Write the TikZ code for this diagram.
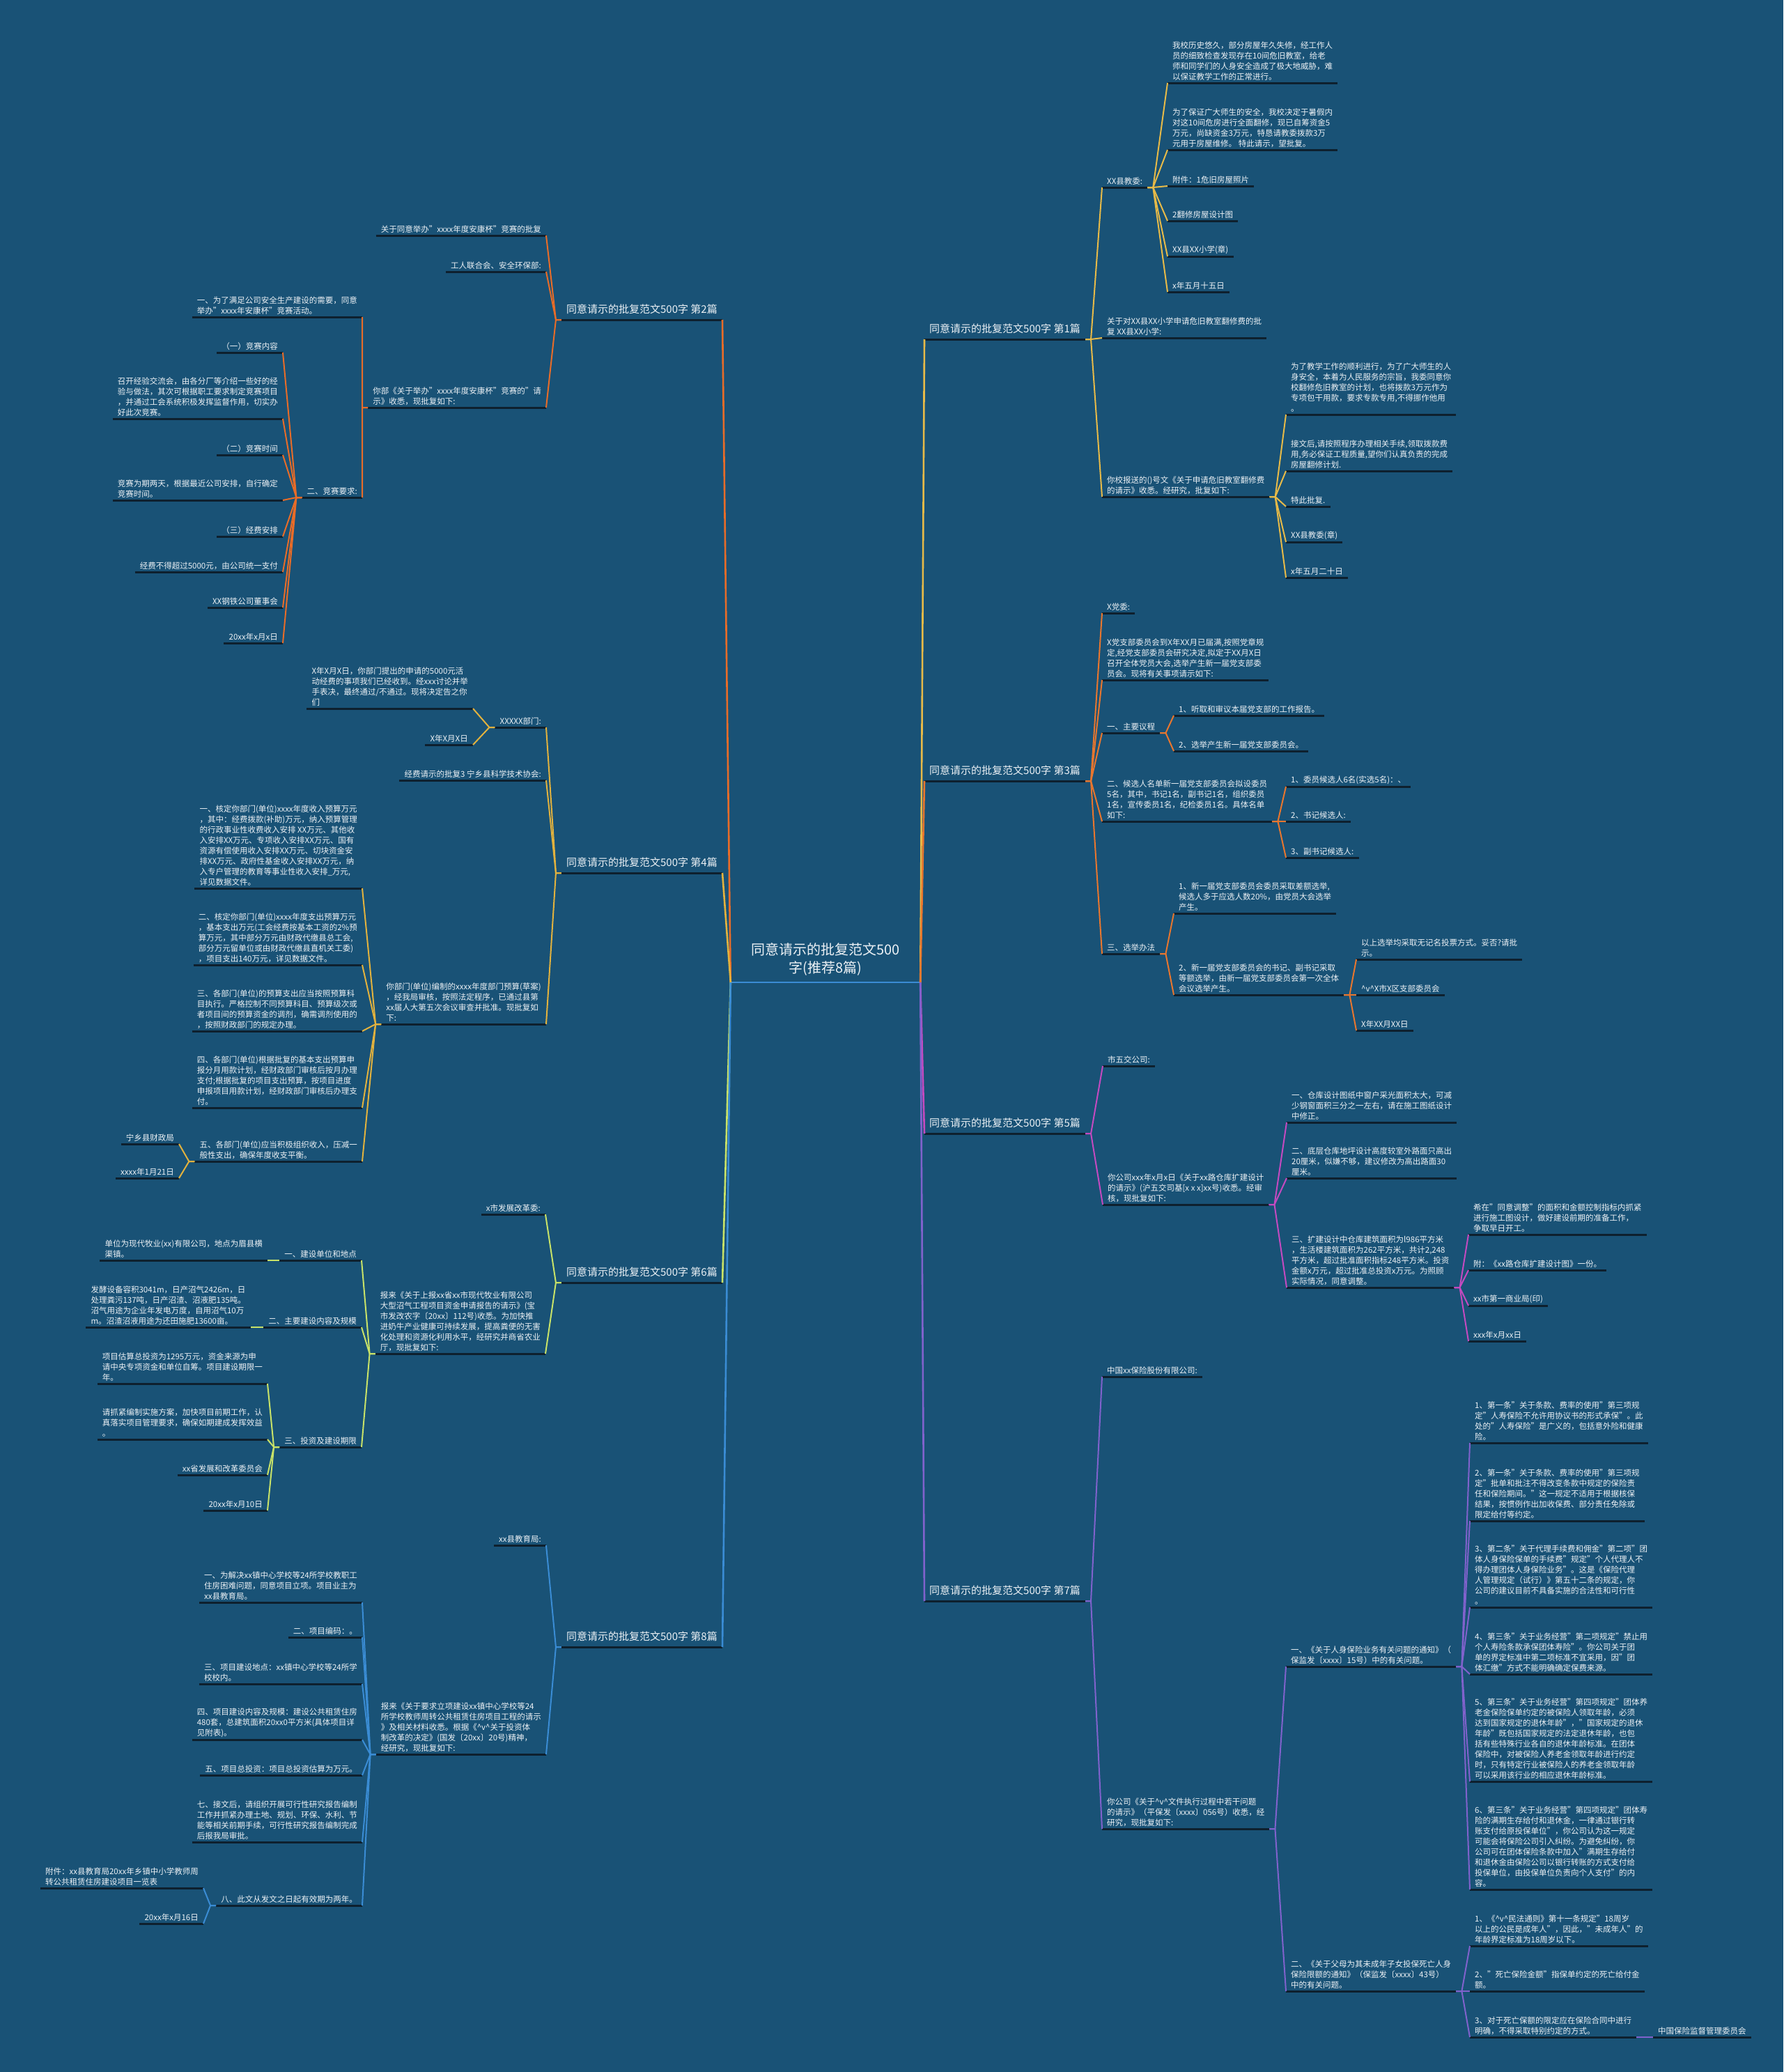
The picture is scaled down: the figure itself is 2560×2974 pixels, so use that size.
\documentclass[tikz,border=0pt]{standalone}
\usepackage{fontspec}
\setmainfont{Noto Sans CJK SC}
\definecolor{bg}{RGB}{25,82,118}
\definecolor{uline}{RGB}{14,32,46}
\definecolor{txt}{RGB}{236,241,245}
\definecolor{cA}{RGB}{231,186,72}
\definecolor{cB}{RGB}{232,118,46}
\definecolor{cC}{RGB}{196,74,192}
\definecolor{cD}{RGB}{128,98,204}
\definecolor{cE}{RGB}{232,108,40}
\definecolor{cF}{RGB}{226,178,62}
\definecolor{cG}{RGB}{200,226,104}
\definecolor{cH}{RGB}{58,140,212}
\tikzset{
 ul/.style={draw=uline, line width=3pt},
 base/.style={align=left, inner xsep=7pt, inner ysep=3.5pt, text=txt, font=\fontsize{11.5}{15}\selectfont,
   append after command={(\tikzlastnode.south west) edge[ul] (\tikzlastnode.south east)}},
 R/.style={base, anchor=south west},
 L/.style={base, anchor=south east},
 MR/.style={R, inner ysep=8pt, font=\fontsize{15}{19}\selectfont},
 ML/.style={L, inner ysep=8pt, font=\fontsize{15}{19}\selectfont},
 lk/.style={line width=2pt, line join=round},
 tk/.style={line width=2.6pt, line join=round},
}
\newcommand\rlinks[3]{\foreach \kid in {#3}{\draw[lk,#1] (#2.south east) -- ++(8,0) -- (\kid.south west);}}
\newcommand\llinks[3]{\foreach \kid in {#3}{\draw[lk,#1] (#2.south west) -- ++(-8,0) -- (\kid.south east);}}
\begin{document}
\begin{tikzpicture}[x=1pt,y=-1pt]
\fill[bg] (0,0) rectangle (2560,2974);
\useasboundingbox (0,0) rectangle (2560,2974);

% center
\node[text=txt, font=\fontsize{20}{26}\selectfont, align=center, anchor=south, minimum width=272pt, inner ysep=9pt] (ctr) at (1185,1410) {同意请示的批复范文500\\字(推荐8篇)};

% main branches
\node[MR] (m1) at (1327,487) {同意请示的批复范文500字 第1篇};
\node[MR] (m3) at (1327,1121) {同意请示的批复范文500字 第3篇};
\node[MR] (m5) at (1327,1627) {同意请示的批复范文500字 第5篇};
\node[MR] (m7) at (1327,2298) {同意请示的批复范文500字 第7篇};
\node[ML] (n2) at (1037,459) {同意请示的批复范文500字 第2篇};
\node[ML] (n4) at (1037,1253) {同意请示的批复范文500字 第4篇};
\node[ML] (n6) at (1037,1841) {同意请示的批复范文500字 第6篇};
\node[ML] (n8) at (1037,2364) {同意请示的批复范文500字 第8篇};

% ---- 第1篇
\node[R] (a1) at (1582,269) {XX县教委:};
\node[R] (a2) at (1582,485) {关于对XX县XX小学申请危旧教室翻修费的批\\复 XX县XX小学:};
\node[R] (a3) at (1582,713) {你校报送的()号文《关于申请危旧教室翻修费\\的请示》收悉。经研究，批复如下:};
\node[R] (a11) at (1676,119) {我校历史悠久，部分房屋年久失修，经工作人\\员的细致检查发现存在10间危旧教室，给老\\师和同学们的人身安全造成了极大地威胁，难\\以保证教学工作的正常进行。};
\node[R] (a12) at (1676,215) {为了保证广大师生的安全，我校决定于暑假内\\对这10间危房进行全面翻修，现已自筹资金5\\万元，尚缺资金3万元，特恳请教委拨款3万\\元用于房屋维修。 特此请示，望批复。};
\node[R] (a13) at (1676,267) {附件：1危旧房屋照片};
\node[R] (a14) at (1676,317) {2翻修房屋设计图};
\node[R] (a15) at (1676,368) {XX县XX小学(章)};
\node[R] (a16) at (1676,419) {x年五月十五日};
\node[R] (a31) at (1846,595) {为了教学工作的顺利进行，为了广大师生的人\\身安全，本着为人民服务的宗旨，我委同意你\\校翻修危旧教室的计划，也将拨款3万元作为\\专项包干用款，要求专款专用,不得挪作他用\\。};
\node[R] (a32) at (1846,676) {接文后,请按照程序办理相关手续,领取拨款费\\用,务必保证工程质量,望你们认真负责的完成\\房屋翻修计划.};
\node[R] (a33) at (1846,727) {特此批复.};
\node[R] (a34) at (1846,778) {XX县教委(章)};
\node[R] (a35) at (1846,829) {x年五月二十日};

% ---- 第3篇
\node[R] (b1) at (1582,880) {X党委:};
\node[R] (b2) at (1582,976) {X党支部委员会到X年XX月已届满,按照党章规\\定,经党支部委员会研究决定,拟定于XX月X日\\召开全体党员大会,选举产生新一届党支部委\\员会。现将有关事项请示如下:};
\node[R] (b3) at (1582,1052) {一、主要议程};
\node[R] (b4) at (1582,1179) {二、候选人名单新一届党支部委员会拟设委员\\5名，其中，书记1名，副书记1名，组织委员\\1名，宣传委员1名，纪检委员1名。具体名单\\如下:};
\node[R] (b5) at (1582,1369) {三、选举办法};
\node[R] (b31) at (1685,1027) {1、听取和审议本届党支部的工作报告。};
\node[R] (b32) at (1685,1078) {2、选举产生新一届党支部委员会。};
\node[R] (b41) at (1846,1129) {1、委员候选人6名(实选5名)：、};
\node[R] (b42) at (1846,1179) {2、书记候选人:};
\node[R] (b43) at (1846,1231) {3、副书记候选人:};
\node[R] (b51) at (1685,1311) {1、新一届党支部委员会委员采取差额选举,\\候选人多于应选人数20\%，由党员大会选举\\产生。};
\node[R] (b52) at (1685,1428) {2、新一届党支部委员会的书记、副书记采取\\等额选举，由新一届党支部委员会第一次全体\\会议选举产生。};
\node[R] (b521) at (1947,1377) {以上选举均采取无记名投票方式。妥否?请批\\示。};
\node[R] (b522) at (1947,1428) {\textasciicircum v\textasciicircum X市X区支部委员会};
\node[R] (b523) at (1947,1479) {X年XX月XX日};

% ---- 第5篇
\node[R] (c1) at (1583,1530) {市五交公司:};
\node[R] (c2) at (1583,1729) {你公司xxx年x月x日《关于xx路仓库扩建设计\\的请示》(沪五交司基[x x x]xx号)收悉。经审\\核，现批复如下:};
\node[R] (c21) at (1847,1611) {一、仓库设计图纸中窗户采光面积太大，可减\\少钢窗面积三分之一左右，请在施工图纸设计\\中修正。};
\node[R] (c22) at (1847,1691) {二、底层仓库地坪设计高度较室外路面只高出\\20厘米，似嫌不够，建议修改为高出路面30\\厘米。};
\node[R] (c23) at (1847,1848) {三、扩建设计中仓库建筑面积为l986平方米\\，生活楼建筑面积为262平方米，共计2,248\\平方米，超过批准面积指标248平方米。投资\\金额x万元，超过批准总投资x万元。为照顾\\实际情况，同意调整。};
\node[R] (c231) at (2108,1772) {希在"同意调整"的面积和金额控制指标内抓紧\\进行施工图设计，做好建设前期的准备工作，\\争取早日开工。};
\node[R] (c232) at (2108,1823) {附：《xx路仓库扩建设计图》一份。};
\node[R] (c233) at (2108,1874) {xx市第一商业局(印)};
\node[R] (c234) at (2108,1925) {xxx年x月xx日};

% ---- 第7篇
\node[R] (d1) at (1582,1976) {中国xx保险股份有限公司:};
\node[R] (d2) at (1582,2625) {你公司《关于\textasciicircum v\textasciicircum 文件执行过程中若干问题\\的请示》（平保发〔xxxx〕056号）收悉，经\\研究，现批复如下:};
\node[R] (d21) at (1846,2392) {一、《关于人身保险业务有关问题的通知》（\\保监发〔xxxx〕15号）中的有关问题。};
\node[R] (d22) at (1846,2858) {二、《关于父母为其未成年子女投保死亡人身\\保险限额的通知》（保监发〔xxxx〕43号）\\中的有关问题。};
\node[R] (d211) at (2110,2071) {1、第一条"关于条款、费率的使用"第三项规\\定"人寿保险不允许用协议书的形式承保"。此\\处的"人寿保险"是广义的，包括意外险和健康\\险。};
\node[R] (d212) at (2110,2183) {2、第一条"关于条款、费率的使用"第三项规\\定"批单和批注不得改变条款中规定的保险责\\任和保险期间。"这一规定不适用于根据核保\\结果，按惯例作出加收保费、部分责任免除或\\限定给付等约定。};
\node[R] (d213) at (2110,2307) {3、第二条"关于代理手续费和佣金"第二项"团\\体人身保险保单的手续费"规定"个人代理人不\\得办理团体人身保险业务"。这是《保险代理\\人管理规定（试行）》第五十二条的规定，你\\公司的建议目前不具备实施的合法性和可行性\\。};
\node[R] (d214) at (2110,2403) {4、第三条"关于业务经营"第二项规定"禁止用\\个人寿险条款承保团体寿险"。你公司关于团\\单的界定标准中第二项标准不宜采用，因"团\\体汇缴"方式不能明确确定保费来源。};
\node[R] (d215) at (2110,2557) {5、第三条"关于业务经营"第四项规定"团体养\\老金保险保单约定的被保险人领取年龄，必须\\达到国家规定的退休年龄"，"国家规定的退休\\年龄"既包括国家规定的法定退休年龄，也包\\括有些特殊行业各自的退休年龄标准。在团体\\保险中，对被保险人养老金领取年龄进行约定\\时，只有特定行业被保险人的养老金领取年龄\\可以采用该行业的相应退休年龄标准。};
\node[R] (d216) at (2110,2712) {6、第三条"关于业务经营"第四项规定"团体寿\\险的满期生存给付和退休金，一律通过银行转\\账支付给原投保单位"，你公司认为这一规定\\可能会将保险公司引入纠纷。为避免纠纷，你\\公司可在团体保险条款中加入"满期生存给付\\和退休金由保险公司以银行转账的方式支付给\\投保单位，由投保单位负责向个人支付"的内\\容。};
\node[R] (d221) at (2110,2793) {1、《\textasciicircum v\textasciicircum 民法通则》第十一条规定"18周岁\\以上的公民是成年人"，因此，"未成年人"的\\年龄界定标准为18周岁以下。};
\node[R] (d222) at (2110,2858) {2、"死亡保险金额"指保单约定的死亡给付金\\额。};
\node[R] (d223) at (2110,2924) {3、对于死亡保额的限定应在保险合同中进行\\明确，不得采取特别约定的方式。};
\node[R] (d2231) at (2373,2924) {中国保险监督管理委员会};

% ---- 第2篇
\node[L] (e1) at (784,338) {关于同意举办"xxxx年度安康杯"竞赛的批复};
\node[L] (e2) at (784,390) {工人联合会、安全环保部:};
\node[L] (e3) at (784,585) {你部《关于举办"xxxx年度安康杯"竞赛的"请\\示》收悉，现批复如下:};
\node[L] (e31) at (520,455) {一、为了满足公司安全生产建设的需要，同意\\举办"xxxx年安康杯"竞赛活动。};
\node[L] (e32) at (520,714) {二、竞赛要求:};
\node[L] (e321) at (406,506) {（一）竞赛内容};
\node[L] (e322) at (406,601) {召开经验交流会，由各分厂等介绍一些好的经\\验与做法，其次可根据职工要求制定竞赛项目\\，并通过工会系统积极发挥监督作用，切实办\\好此次竞赛。};
\node[L] (e323) at (406,653) {（二）竞赛时间};
\node[L] (e324) at (406,718) {竞赛为期两天，根据最近公司安排，自行确定\\竞赛时间。};
\node[L] (e325) at (406,770) {（三）经费安排};
\node[L] (e326) at (406,821) {经费不得超过5000元，由公司统一支付};
\node[L] (e327) at (406,872) {XX钢铁公司董事会};
\node[L] (e328) at (406,923) {20xx年x月x日};

% ---- 第4篇
\node[L] (f1) at (784,1044) {XXXXX部门:};
\node[L] (f2) at (784,1120) {经费请示的批复3 宁乡县科学技术协会:};
\node[L] (f3) at (784,1470) {你部门(单位)编制的xxxx年度部门预算(草案)\\，经我局审核，按照法定程序，已通过县第\\xx届人大第五次会议审查并批准。现批复如\\下:};
\node[L] (f11) at (679,1017) {X年X月X日，你部门提出的申请的5000元活\\动经费的事项我们已经收到。经xxx讨论并举\\手表决，最终通过/不通过。现将决定告之你\\们};
\node[L] (f12) at (679,1069) {X年X月X日};
\node[L] (f31) at (520,1275) {一、核定你部门(单位)xxxx年度收入预算万元\\，其中：经费拨款(补助)万元，纳入预算管理\\的行政事业性收费收入安排 XX万元、其他收\\入安排XX万元、专项收入安排XX万元、国有\\资源有偿使用收入安排XX万元、切块资金安\\排XX万元、政府性基金收入安排XX万元，纳\\入专户管理的教育等事业性收入安排\_万元,\\详见数据文件。};
\node[L] (f32) at (520,1385) {二、核定你部门(单位)xxxx年度支出预算万元\\，基本支出万元(工会经费按基本工资的2\%预\\算万元，其中部分万元由财政代缴县总工会,\\部分万元留单位或由财政代缴县直机关工委)\\，项目支出140万元，详见数据文件。};
\node[L] (f33) at (520,1480) {三、各部门(单位)的预算支出应当按照预算科\\目执行。严格控制不同预算科目、预算级次或\\者项目间的预算资金的调剂，确需调剂使用的\\，按照财政部门的规定办理。};
\node[L] (f34) at (520,1590) {四、各部门(单位)根据批复的基本支出预算申\\报分月用款计划，经财政部门审核后按月办理\\支付;根据批复的项目支出预算，按项目进度\\申报项目用款计划，经财政部门审核后办理支\\付。};
\node[L] (f35) at (520,1667) {五、各部门(单位)应当积极组织收入，压减一\\般性支出，确保年度收支平衡。};
\node[L] (f351) at (257,1642) {宁乡县财政局};
\node[L] (f352) at (257,1691) {xxxx年1月21日};

% ---- 第6篇
\node[L] (g1) at (783,1743) {x市发展改革委:};
\node[L] (g2) at (783,1943) {报来《关于上报xx省xx市现代牧业有限公司\\大型沼气工程项目资金申请报告的请示》(宝\\市发改农字〔20xx〕112号)收悉。为加快推\\进奶牛产业健康可持续发展，提高粪便的无害\\化处理和资源化利用水平，经研究并商省农业\\厅，现批复如下:};
\node[L] (g21) at (519,1809) {一、建设单位和地点};
\node[L] (g22) at (519,1905) {二、主要建设内容及规模};
\node[L] (g23) at (519,2077) {三、投资及建设期限};
\node[L] (g211) at (384,1809) {单位为现代牧业(xx)有限公司，地点为眉县横\\渠镇。};
\node[L] (g221) at (360,1905) {发酵设备容积3041m，日产沼气2426m，日\\处理粪污137吨，日产沼渣、沼液肥135吨。\\沼气用途为企业年发电万度，自用沼气10万\\m。沼渣沼液用途为还田施肥13600亩。};
\node[L] (g231) at (384,1986) {项目估算总投资为1295万元，资金来源为申\\请中央专项资金和单位自筹。项目建设期限一\\年。};
\node[L] (g232) at (384,2066) {请抓紧编制实施方案，加快项目前期工作，认\\真落实项目管理要求，确保如期建成发挥效益\\。};
\node[L] (g233) at (384,2117) {xx省发展和改革委员会};
\node[L] (g234) at (384,2168) {20xx年x月10日};

% ---- 第8篇
\node[L] (h1) at (784,2218) {xx县教育局:};
\node[L] (h2) at (784,2518) {报来《关于要求立项建设xx镇中心学校等24\\所学校教师周转公共租赁住房项目工程的请示\\》及相关材料收悉。根据《\textasciicircum v\textasciicircum 关于投资体\\制改革的决定》(国发〔20xx〕20号)精神，\\经研究，现批复如下:};
\node[L] (h21) at (520,2300) {一、为解决xx镇中心学校等24所学校教职工\\住房困难问题，同意项目立项。项目业主为\\xx县教育局。};
\node[L] (h22) at (520,2350) {二、项目编码：。};
\node[L] (h23) at (520,2417) {三、项目建设地点：xx镇中心学校等24所学\\校校内。};
\node[L] (h24) at (520,2497) {四、项目建设内容及规模：建设公共租赁住房\\480套，总建筑面积20xx0平方米(具体项目详\\见附表)。};
\node[L] (h25) at (520,2548) {五、项目总投资：项目总投资估算为万元。};
\node[L] (h26) at (520,2644) {七、接文后，请组织开展可行性研究报告编制\\工作并抓紧办理土地、规划、环保、水利、节\\能等相关前期手续，可行性研究报告编制完成\\后报我局审批。};
\node[L] (h27) at (520,2735) {八、此文从发文之日起有效期为两年。};
\node[L] (h271) at (292,2710) {附件：xx县教育局20xx年乡镇中小学教师周\\转公共租赁住房建设项目一览表};
\node[L] (h272) at (292,2761) {20xx年x月16日};

% ---- trunk
\draw[cH, line width=2.5pt] (ctr.south west) -- (ctr.south east);
\draw[tk,cA] (ctr.south east) -- (m1.south west);
\draw[tk,cB] (ctr.south east) -- (m3.south west);
\draw[tk,cC] (ctr.south east) -- (m5.south west);
\draw[tk,cD] (ctr.south east) -- (m7.south west);
\draw[tk,cE] (ctr.south west) -- (n2.south east);
\draw[tk,cF] (ctr.south west) -- (n4.south east);
\draw[tk,cG] (ctr.south west) -- (n6.south east);
\draw[tk,cH] (ctr.south west) -- (n8.south east);

% ---- links
\rlinks{cA}{m1}{a1,a2,a3}
\rlinks{cA}{a1}{a11,a12,a13,a14,a15,a16}
\rlinks{cA}{a3}{a31,a32,a33,a34,a35}
\rlinks{cB}{m3}{b1,b2,b3,b4,b5}
\rlinks{cB}{b3}{b31,b32}
\rlinks{cB}{b4}{b41,b42,b43}
\rlinks{cB}{b5}{b51,b52}
\rlinks{cB}{b52}{b521,b522,b523}
\rlinks{cC}{m5}{c1,c2}
\rlinks{cC}{c2}{c21,c22,c23}
\rlinks{cC}{c23}{c231,c232,c233,c234}
\rlinks{cD}{m7}{d1,d2}
\rlinks{cD}{d2}{d21,d22}
\rlinks{cD}{d21}{d211,d212,d213,d214,d215,d216}
\rlinks{cD}{d22}{d221,d222,d223}
\rlinks{cD}{d223}{d2231}
\llinks{cE}{n2}{e1,e2,e3}
\llinks{cE}{e3}{e31,e32}
\llinks{cE}{e32}{e321,e322,e323,e324,e325,e326,e327,e328}
\llinks{cF}{n4}{f1,f2,f3}
\llinks{cF}{f1}{f11,f12}
\llinks{cF}{f3}{f31,f32,f33,f34,f35}
\llinks{cF}{f35}{f351,f352}
\llinks{cG}{n6}{g1,g2}
\llinks{cG}{g2}{g21,g22,g23}
\llinks{cG}{g21}{g211}
\llinks{cG}{g22}{g221}
\llinks{cG}{g23}{g231,g232,g233,g234}
\llinks{cH}{n8}{h1,h2}
\llinks{cH}{h2}{h21,h22,h23,h24,h25,h26,h27}
\llinks{cH}{h27}{h271,h272}
\end{tikzpicture}
\end{document}
